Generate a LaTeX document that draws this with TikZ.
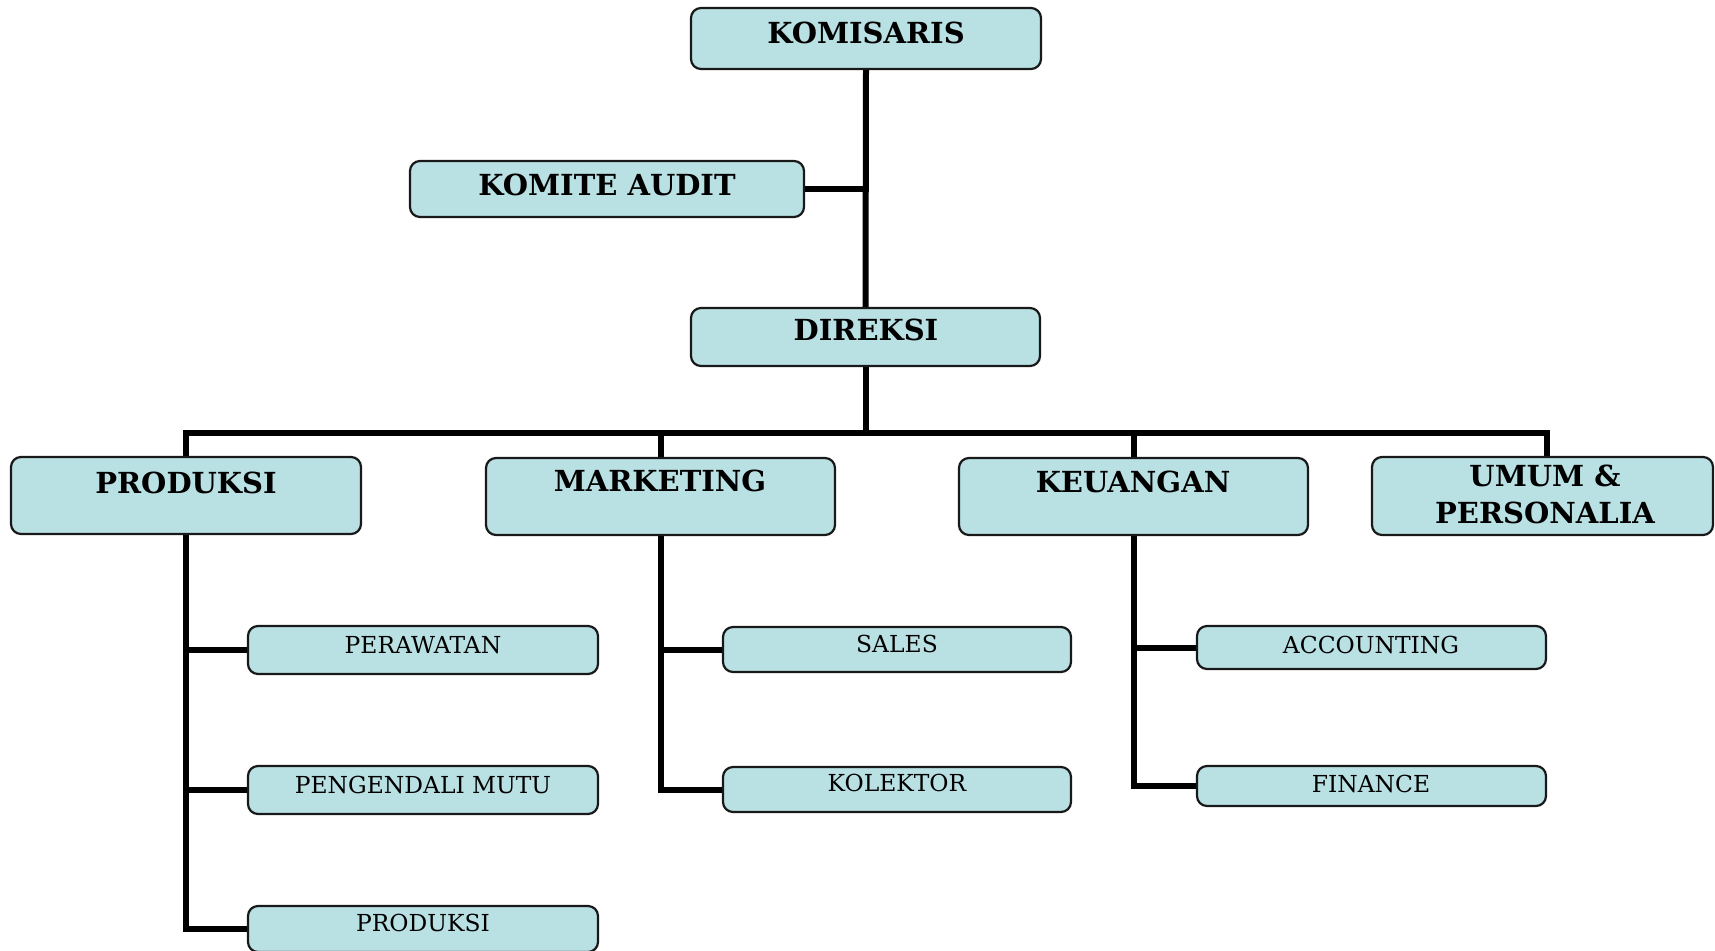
\documentclass[tikz,border=0pt]{standalone}
\usepackage{fontspec}
\setmainfont{DejaVu Serif}
\usetikzlibrary{fit}
\pgfdeclarelayer{bg}
\pgfsetlayers{bg,main}
\definecolor{boxfill}{RGB}{185,224,227}
\definecolor{boxline}{RGB}{25,25,25}
\tikzset{
  box/.style={draw=boxline, line width=1.1pt, fill=boxfill, rounded corners=5pt, inner sep=0pt},
  hd/.style={inner sep=0pt, font=\fontsize{14.5}{16}\selectfont\bfseries},
  sub/.style={inner sep=0pt, font=\fontsize{11.7}{14}\selectfont},
  conn/.style={line width=3pt, line join=miter, line cap=rect}
}
\begin{document}
\begin{tikzpicture}[x=0.5pt,y=-0.5pt]
\clip (0,0) rectangle (1715,950);
\begin{pgfonlayer}{bg}
\fill[white] (0,0) rectangle (1715,950);
\end{pgfonlayer}
\coordinate (busy) at (0,433);
% boxes
\node[box, fit={(691,8) (1041,69)}] (kom) {};
\node[box, fit={(410,161) (804,217)}] (aud) {};
\node[box, fit={(691,308) (1040,366)}] (dir) {};
\node[box, fit={(11,457) (361,534)}] (prod) {};
\node[box, fit={(486,458) (835,535)}] (mkt) {};
\node[box, fit={(959,458) (1308,535)}] (keu) {};
\node[box, fit={(1372,457) (1713,535)}] (umum) {};
\coordinate (umumtop) at (1547,457);
\node[box, fit={(248,626) (598,674)}] (sp1) {};
\node[box, fit={(248,766) (598,814)}] (sp2) {};
\node[box, fit={(248,906) (598,952)}] (sp3) {};
\node[box, fit={(723,627) (1071,672)}] (sm1) {};
\node[box, fit={(723,767) (1071,812)}] (sm2) {};
\node[box, fit={(1197,626) (1546,669)}] (sk1) {};
\node[box, fit={(1197,766) (1546,806)}] (sk2) {};
% connectors
\begin{pgfonlayer}{bg}
\draw[conn] (kom.south) -- (dir.north);
\draw[conn] (aud.east) -- (aud.east -| kom.south);
\draw[conn] (dir.south) -- (dir.south |- busy);
\draw[conn] (prod.north) |- (busy -| umumtop) -- (umumtop);
\draw[conn] (mkt.north) -- (mkt.north |- busy);
\draw[conn] (keu.north) -- (keu.north |- busy);
\draw[conn] (prod.south) |- (sp3.west);
\draw[conn] (sp1.west) -- (sp1.west -| prod.south);
\draw[conn] (sp2.west) -- (sp2.west -| prod.south);
\draw[conn] (mkt.south) |- (sm2.west);
\draw[conn] (sm1.west) -- (sm1.west -| mkt.south);
\draw[conn] (keu.south) |- (sk2.west);
\draw[conn] (sk1.west) -- (sk1.west -| keu.south);
\end{pgfonlayer}
% texts
\node[hd] (kom-t) at (866,33) {KOMISARIS};
\node[hd] (aud-t) at (607,185) {KOMITE AUDIT};
\node[hd] (dir-t) at (866,330) {DIREKSI};
\node[hd] (prod-t) at (186,483) {PRODUKSI};
\node[hd] (mkt-t) at (660,481) {MARKETING};
\node[hd] (keu-t) at (1133,482) {KEUANGAN};
\node[hd] (umum-t1) at (1545,476) {UMUM \&};
\node[hd] (umum-t2) at (1545,513) {PERSONALIA};
\node[sub] (sp1-t) at (423,645) {PERAWATAN};
\node[sub] (sp2-t) at (423,785) {PENGENDALI MUTU};
\node[sub] (sp3-t) at (423,923) {PRODUKSI};
\node[sub] (sm1-t) at (897,644) {SALES};
\node[sub] (sm2-t) at (897,783) {KOLEKTOR};
\node[sub] (sk1-t) at (1371,645) {ACCOUNTING};
\node[sub] (sk2-t) at (1371,784) {FINANCE};
\end{tikzpicture}
\end{document}
